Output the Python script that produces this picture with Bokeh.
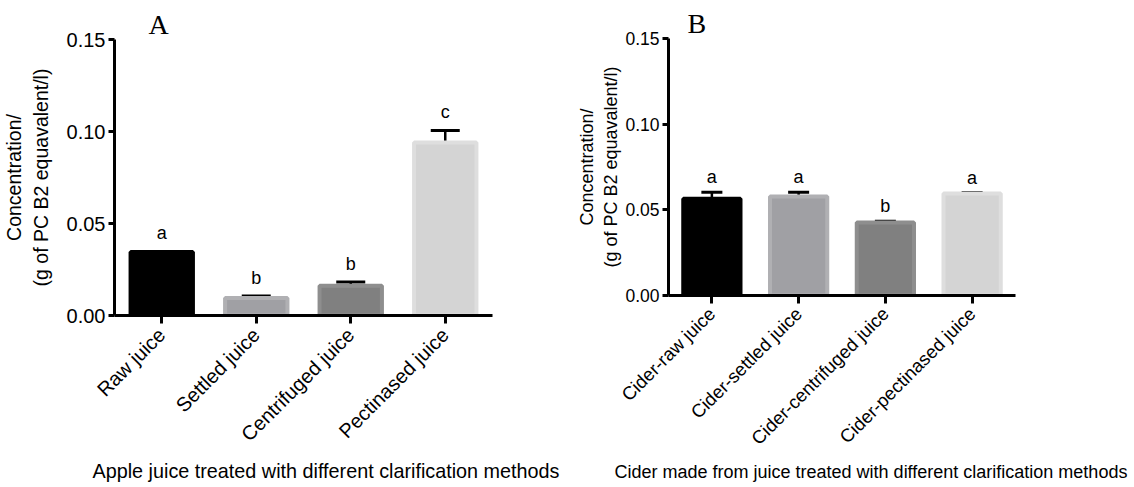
import math
from bokeh.plotting import figure
from bokeh.layouts import row, column
from bokeh.models import (Range1d, FactorRange, FixedTicker, NumeralTickFormatter,
                          ColumnDataSource, Whisker, TeeHead, Title)
from bokeh.embed import file_html
from bokeh.resources import INLINE
from bokeh.core.properties import value

# ---------------- data ----------------
cats_a = ["Raw juice", "Settled juice", "Centrifuged juice", "Pectinased juice"]
vals_a = [0.0345, 0.0095, 0.0162, 0.0940]
errs_a = [0.0003, 0.0011, 0.0020, 0.0066]
letters_a = ["a", "b", "b", "c"]

cats_b = ["Cider-raw juice", "Cider-settled juice", "Cider-centrifuged juice", "Cider-pectinased juice"]
vals_b = [0.0565, 0.0578, 0.0426, 0.0596]
errs_b = [0.0037, 0.0025, 0.0007, 0.0005]
letters_b = ["a", "a", "b", "a"]

fills = ["#000000", "#a0a0a4", "#808080", "#d4d4d4"]
edges = ["#000000", "#b0b0b3", "#8e8e8e", "#dedede"]
yticks = [0.0, 0.05, 0.10, 0.15]

ylabel = "Concentration/\n(g of PC B2 equavalent/l)"
xtitle_a = "Apple juice treated with different clarification methods"
xtitle_b = "Cider made from juice treated with different clarification methods"

FONT = "Liberation Sans"


def make_panel(cats, vals, errs, letters, panel_letter, xtitle, *, width, height,
               bl, br, bt, bb, tick_fs, ylab_fs, ylab_standoff, xlab_fs, xlab_standoff,
               letter_fs, cap, letter_gap, panel_off, xtitle_off, xtitle_fs, xtitle_standoff):
    p = figure(x_range=FactorRange(*cats), y_range=Range1d(0, 0.15),
               width=width, height=height, output_backend="svg", toolbar_location=None,
               min_border_left=bl, min_border_right=br, min_border_top=bt, min_border_bottom=bb)
    p.outline_line_color = None
    p.xgrid.visible = False
    p.ygrid.visible = False
    p.x_range.range_padding = 0

    src = ColumnDataSource(dict(x=cats, top=vals, lower=vals,
                                upper=[v + e for v, e in zip(vals, errs)],
                                fill=fills, edge=edges, lab=letters))
    p.vbar(x="x", top="top", width=0.66, fill_color="fill", line_color="edge",
           line_width=4, source=src)
    w = Whisker(base="x", lower="lower", upper="upper", source=src, dimension="height",
                line_color="black", line_width=2.5,
                upper_head=TeeHead(size=cap, line_width=3, line_color="black"),
                lower_head=None)
    p.add_layout(w)
    p.text(x="x", y="upper", text="lab", source=src, text_align="center",
           text_baseline="bottom", y_offset=-letter_gap, text_font=value(FONT),
           text_font_size=f"{letter_fs}px", text_color="black")

    # y axis
    ya = p.yaxis[0]
    ya.ticker = FixedTicker(ticks=yticks, minor_ticks=[])
    ya.formatter = NumeralTickFormatter(format="0.00")
    ya.axis_line_width = 3
    ya.major_tick_line_width = 3
    ya.major_tick_out = 6
    ya.major_tick_in = 0
    ya.minor_tick_out = 0
    ya.minor_tick_in = 0
    ya.major_label_standoff = 3
    ya.major_label_text_font = FONT
    ya.major_label_text_font_size = f"{tick_fs}px"
    ya.major_label_text_color = "black"
    ya.axis_label = ylabel
    ya.axis_label_text_font = FONT
    ya.axis_label_text_font_style = "normal"
    ya.axis_label_text_font_size = f"{ylab_fs}px"
    ya.axis_label_text_color = "black"
    ya.axis_label_standoff = ylab_standoff

    # x axis
    xa = p.xaxis[0]
    xa.axis_line_width = 3
    xa.major_tick_line_width = 3
    xa.major_tick_out = 8
    xa.major_tick_in = 0
    xa.major_label_orientation = math.pi / 4
    xa.major_label_standoff = xlab_standoff
    xa.major_label_text_font = FONT
    xa.major_label_text_font_size = f"{xlab_fs}px"
    xa.major_label_text_color = "black"

    # panel letter
    p.title = Title(text=panel_letter, align="left", offset=panel_off, standoff=0,
                    text_font="Liberation Serif", text_font_size="28px",
                    text_font_style="normal", text_color="black")
    # x title
    p.add_layout(Title(text=xtitle, align="left", offset=xtitle_off, standoff=xtitle_standoff,
                       text_font=FONT, text_font_size=f"{xtitle_fs}px", text_font_style="normal",
                       text_color="black"), "below")
    return p


H = 485
pa = make_panel(cats_a, vals_a, errs_a, letters_a, "A", xtitle_a,
                width=560, height=H, bl=107, br=68, bt=39, bb=H - 315,
                tick_fs=20, ylab_fs=19.5, ylab_standoff=12, xlab_fs=20, xlab_standoff=8,
                letter_fs=18, cap=29, letter_gap=8,
                panel_off=34, xtitle_off=-22, xtitle_fs=19.8, xtitle_standoff=2)
pb = make_panel(cats_b, vals_b, errs_b, letters_b, "B", xtitle_b,
                width=570, height=H, bl=108, br=115, bt=38, bb=H - 295,
                tick_fs=17.5, ylab_fs=18, ylab_standoff=1, xlab_fs=18.5, xlab_standoff=7,
                letter_fs=18, cap=21, letter_gap=5,
                panel_off=19, xtitle_off=-54, xtitle_fs=18, xtitle_standoff=0)

layout = row(column(pa), column(pb))
open("out.html", "w").write(file_html(layout, INLINE))
